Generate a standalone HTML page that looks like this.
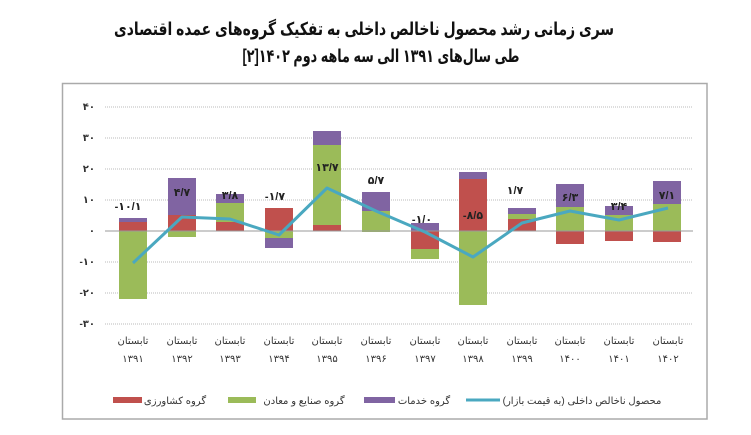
<!DOCTYPE html>
<html><head><meta charset="utf-8"><style>
html,body{margin:0;padding:0;background:#fff;}
svg{display:block;font-family:"Liberation Sans","Noto Sans CJK SC","DejaVu Sans",sans-serif;}
</style></head><body>
<svg width="751" height="435" viewBox="0 0 751 435" xmlns="http://www.w3.org/2000/svg">
<rect width="751" height="435" fill="#fff"/>
<text x="364" y="35" text-anchor="middle" font-size="18" font-weight="bold" fill="#111" direction="rtl" textLength="500" lengthAdjust="spacingAndGlyphs">سری زمانی رشد محصول ناخالص داخلی به تفکیک گروه‌های عمده اقتصادی</text>
<text x="381" y="62" text-anchor="middle" font-size="18" font-weight="bold" fill="#111" direction="rtl" textLength="277" lengthAdjust="spacingAndGlyphs">طی سال‌های ۱۳۹۱ الی سه ماهه دوم ۱۴۰۲[۲]</text>
<rect x="62.5" y="83.5" width="644.5" height="335.5" fill="none" stroke="#aaa" stroke-width="1.5"/>
<g stroke="#bbb" stroke-width="1" stroke-dasharray="1,1">
<line x1="105" x2="693" y1="107" y2="107"/><line x1="105" x2="693" y1="138" y2="138"/>
<line x1="105" x2="693" y1="169" y2="169"/><line x1="105" x2="693" y1="200" y2="200"/>
<line x1="105" x2="693" y1="262" y2="262"/><line x1="105" x2="693" y1="293" y2="293"/>
<line x1="105" x2="693" y1="324" y2="324"/>
</g>
<g font-size="10" fill="#333" text-anchor="end" font-weight="bold">
<text x="95" y="110">۴۰</text><text x="95" y="141">۳۰</text><text x="95" y="172">۲۰</text>
<text x="95" y="203">۱۰</text><text x="95" y="234">۰</text><text x="95" y="265">-۱۰</text>
<text x="95" y="296">-۲۰</text><text x="95" y="327">-۳۰</text>
</g>
<g>
<rect x="119" y="218" width="28" height="4" fill="#8064a2"/><rect x="119" y="222" width="28" height="9" fill="#c0504d"/><rect x="119" y="231" width="28" height="68" fill="#9bbb59"/>
<rect x="168" y="178" width="28" height="37" fill="#8064a2"/><rect x="168" y="215" width="28" height="16" fill="#c0504d"/><rect x="168" y="231" width="28" height="6" fill="#9bbb59"/>
<rect x="216" y="194" width="28" height="9" fill="#8064a2"/><rect x="216" y="203" width="28" height="19" fill="#9bbb59"/><rect x="216" y="222" width="28" height="9" fill="#c0504d"/>
<rect x="265" y="208" width="28" height="23" fill="#c0504d"/><rect x="265" y="231" width="28" height="7" fill="#9bbb59"/><rect x="265" y="238" width="28" height="10" fill="#8064a2"/>
<rect x="313" y="131" width="28" height="14" fill="#8064a2"/><rect x="313" y="145" width="28" height="80" fill="#9bbb59"/><rect x="313" y="225" width="28" height="6" fill="#c0504d"/>
<rect x="362" y="192" width="28" height="19" fill="#8064a2"/><rect x="362" y="211" width="28" height="21" fill="#9bbb59"/>
<rect x="411" y="223" width="28" height="8" fill="#8064a2"/><rect x="411" y="231" width="28" height="18" fill="#c0504d"/><rect x="411" y="249" width="28" height="10" fill="#9bbb59"/>
<rect x="459" y="172" width="28" height="7" fill="#8064a2"/><rect x="459" y="179" width="28" height="52" fill="#c0504d"/><rect x="459" y="231" width="28" height="74" fill="#9bbb59"/>
<rect x="508" y="208" width="28" height="6" fill="#8064a2"/><rect x="508" y="214" width="28" height="5" fill="#9bbb59"/><rect x="508" y="219" width="28" height="12" fill="#c0504d"/>
<rect x="556" y="184" width="28" height="23" fill="#8064a2"/><rect x="556" y="207" width="28" height="24" fill="#9bbb59"/><rect x="556" y="231" width="28" height="13" fill="#c0504d"/>
<rect x="605" y="206" width="28" height="9" fill="#8064a2"/><rect x="605" y="215" width="28" height="16" fill="#9bbb59"/><rect x="605" y="231" width="28" height="10" fill="#c0504d"/>
<rect x="653" y="181" width="28" height="23" fill="#8064a2"/><rect x="653" y="204" width="28" height="27" fill="#9bbb59"/><rect x="653" y="231" width="28" height="11" fill="#c0504d"/>
</g>
<line x1="105" x2="693" y1="231" y2="231" stroke="#999" stroke-width="1"/>
<polyline points="133,263 182,217 230,219 279,235 327,188 376,211 425,232 473,257 522,223 570,211 619,220 668,208" fill="none" stroke="#4aa8c0" stroke-width="3" stroke-linejoin="round"/>
<g font-size="11" fill="#222" text-anchor="middle" font-weight="bold">
<text x="128" y="210">-۱۰/۱</text><text x="182" y="196">۴/۷</text><text x="230" y="199">۳/۸</text>
<text x="275" y="200">-۱/۷</text><text x="327" y="171">۱۳/۷</text><text x="376" y="184">۵/۷</text>
<text x="422" y="223">-۱/۰</text><text x="473" y="219">-۸/۵</text><text x="515" y="194">۱/۷</text>
<text x="570" y="201">۶/۳</text><text x="619" y="210">۳/۴</text><text x="667" y="199">۷/۱</text>
</g>
<g font-size="10" fill="#333" text-anchor="middle">
<text x="133" y="344">تابستان</text><text x="182" y="344">تابستان</text><text x="230" y="344">تابستان</text>
<text x="279" y="344">تابستان</text><text x="327" y="344">تابستان</text><text x="376" y="344">تابستان</text>
<text x="425" y="344">تابستان</text><text x="473" y="344">تابستان</text><text x="522" y="344">تابستان</text>
<text x="570" y="344">تابستان</text><text x="619" y="344">تابستان</text><text x="668" y="344">تابستان</text>
<text x="133" y="362">۱۳۹۱</text><text x="182" y="362">۱۳۹۲</text><text x="230" y="362">۱۳۹۳</text>
<text x="279" y="362">۱۳۹۴</text><text x="327" y="362">۱۳۹۵</text><text x="376" y="362">۱۳۹۶</text>
<text x="425" y="362">۱۳۹۷</text><text x="473" y="362">۱۳۹۸</text><text x="522" y="362">۱۳۹۹</text>
<text x="570" y="362">۱۴۰۰</text><text x="619" y="362">۱۴۰۱</text><text x="668" y="362">۱۴۰۲</text>
</g>
<rect x="113" y="397" width="29" height="6" fill="#c0504d"/>
<rect x="228" y="397" width="28" height="6" fill="#9bbb59"/>
<rect x="364" y="397" width="31" height="6" fill="#8064a2"/>
<line x1="466" x2="500" y1="400" y2="400" stroke="#4aa8c0" stroke-width="3"/>
<g font-size="10" fill="#333" text-anchor="middle" direction="rtl">
<text x="175" y="404">گروه کشاورزی</text>
<text x="304" y="404">گروه صنایع و معادن</text>
<text x="424" y="404">گروه خدمات</text>
<text x="582" y="404">محصول ناخالص داخلی (به قیمت بازار)</text>
</g>
</svg>
</body></html>
